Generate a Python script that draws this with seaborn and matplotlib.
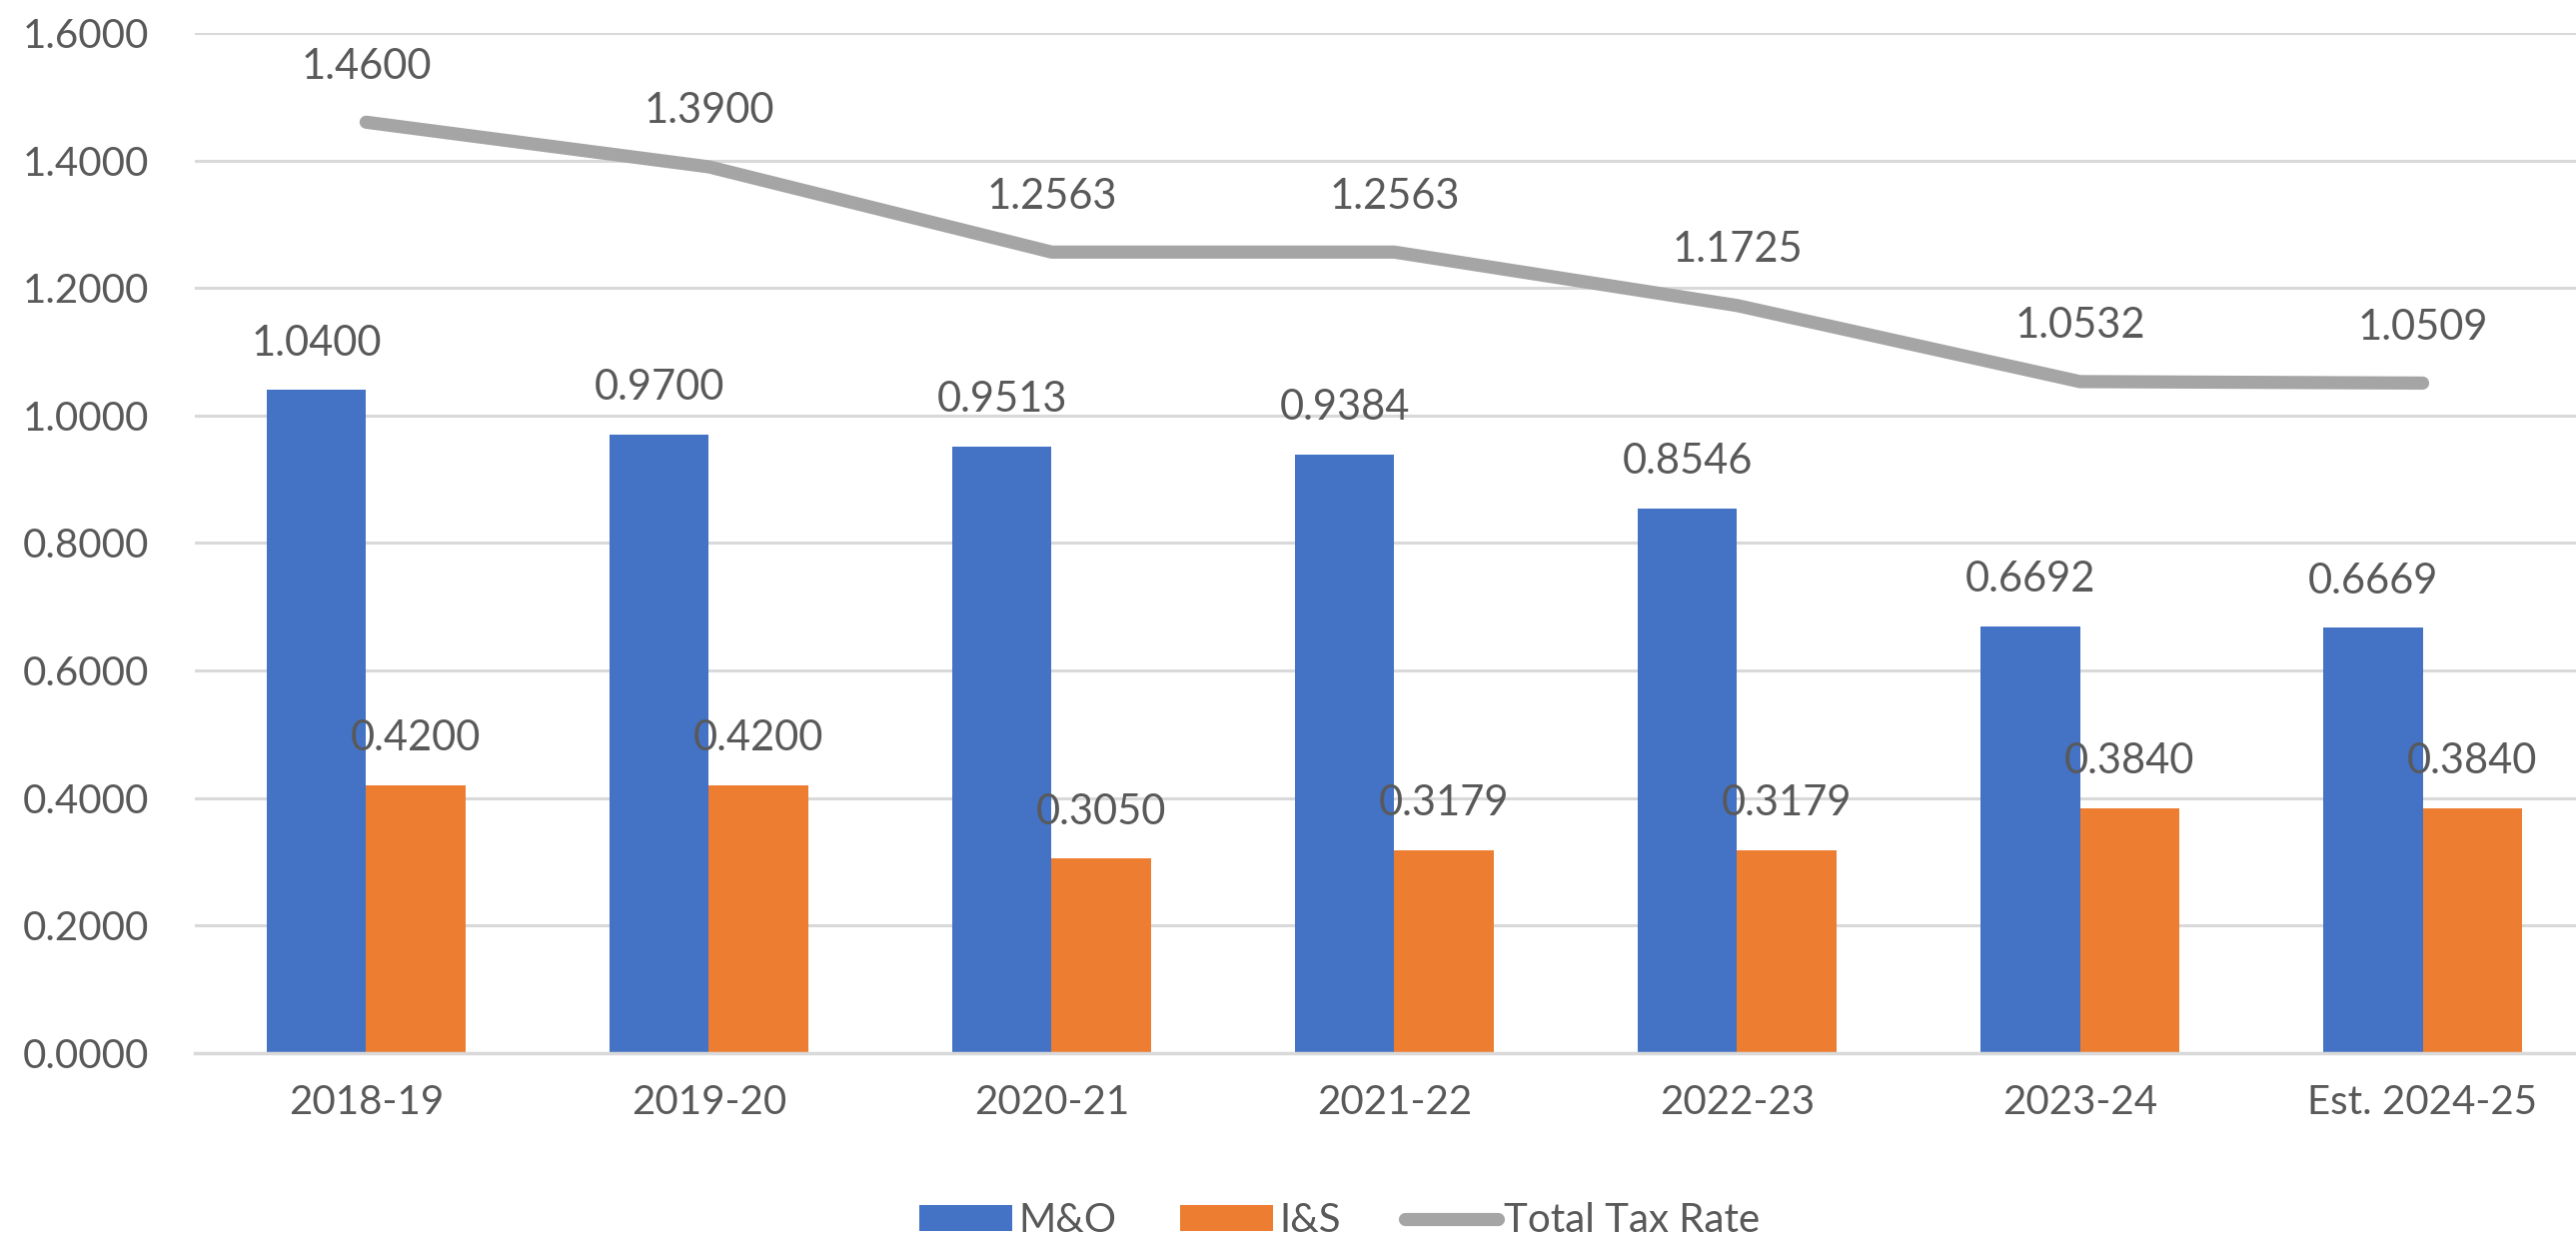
import numpy as np
import pandas as pd
import matplotlib
matplotlib.use("Agg")
import matplotlib.pyplot as plt
import seaborn as sns
from matplotlib.patches import Patch
from matplotlib.lines import Line2D

categories = ["2018-19", "2019-20", "2020-21", "2021-22", "2022-23", "2023-24", "Est. 2024-25"]
mo_values = [1.0400, 0.9700, 0.9513, 0.9384, 0.8546, 0.6692, 0.6669]
is_values = [0.4200, 0.4200, 0.3050, 0.3179, 0.3179, 0.3840, 0.3840]
total_values = [1.4600, 1.3900, 1.2563, 1.2563, 1.1725, 1.0532, 1.0509]
series_names = ["M&O", "I&S", "Total Tax Rate"]
y_ticks = [0.0, 0.2, 0.4, 0.6, 0.8, 1.0, 1.2, 1.4, 1.6]

BLUE = "#4472C4"
ORANGE = "#ED7D31"
GRAY = "#A5A5A5"
TEXT = "#595959"
GRID = "#D9D9D9"

sns.set_theme(style="white")
plt.rcParams["font.family"] = ["Lato", "DejaVu Sans"]

df = pd.DataFrame({
    "Year": categories * 2,
    "Rate": mo_values + is_values,
    "Series": [series_names[0]] * len(categories) + [series_names[1]] * len(categories),
})

fig = plt.figure(figsize=(25.78, 12.39), dpi=100)
ax = fig.add_axes([0.0756, 0.1493, 0.9314, 0.8241])

sns.barplot(data=df, x="Year", y="Rate", hue="Series", order=categories,
            hue_order=series_names[:2], palette=[BLUE, ORANGE],
            width=0.578, gap=0, saturation=1, errorbar=None, legend=False, ax=ax,
            edgecolor="none", linewidth=0, zorder=2)

xpos = np.arange(len(categories))
sns.lineplot(x=xpos, y=total_values, color=GRAY, linewidth=9.5, ax=ax,
             solid_capstyle="round", solid_joinstyle="round", zorder=3)

for cont in ax.containers:
    ax.bar_label(cont, fmt="%.4f", padding=20, fontsize=30, color=TEXT)

for x, v in zip(xpos, total_values):
    ax.annotate(f"{v:.4f}", (x, v), xytext=(0, 40), textcoords="offset points",
                ha="center", va="center", fontsize=30, color=TEXT)

ax.set_xlim(-0.5, len(categories) - 0.5)
ax.set_ylim(0, 1.6)
ax.set_yticks(y_ticks)
ax.set_yticklabels([f"{t:.4f}" for t in y_ticks])
ax.yaxis.grid(True, color=GRID, linewidth=2.2, zorder=0)
ax.set_axisbelow(True)
for s in ["top", "right", "left"]:
    ax.spines[s].set_visible(False)
ax.spines["bottom"].set_color(GRID)
ax.spines["bottom"].set_linewidth(2.5)
ax.tick_params(axis="both", length=0, labelsize=29, colors=TEXT)
ax.tick_params(axis="x", pad=22)
ax.tick_params(axis="y", pad=33)
ax.set_xlabel("")
ax.set_ylabel("")

handles = [Patch(facecolor=BLUE, edgecolor="none"),
           Patch(facecolor=ORANGE, edgecolor="none"),
           Line2D([0], [0], color=GRAY, linewidth=9.5, solid_capstyle="round")]
fig.legend(handles, series_names, loc="center", bbox_to_anchor=(0.52, 0.014),
           ncol=3, frameon=False, fontsize=29, labelcolor=TEXT,
           handlelength=2.3, handleheight=0.6, handletextpad=0.15, columnspacing=1.6)

fig.savefig("out.png", dpi=100)
